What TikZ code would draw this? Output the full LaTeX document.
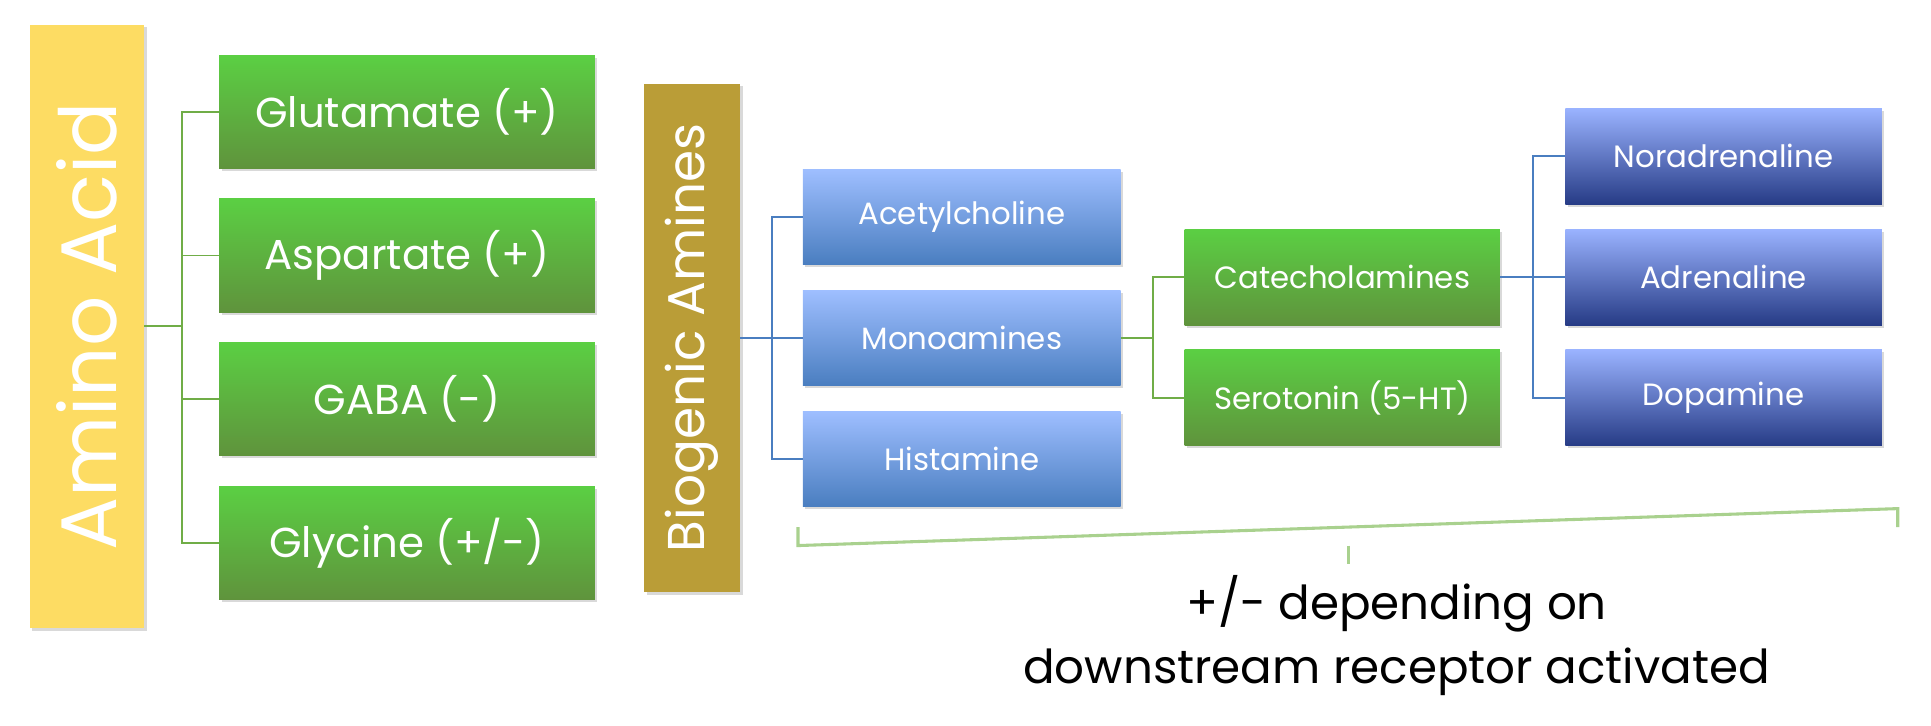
\documentclass[tikz,border=0pt]{standalone}
\usepackage{fontspec}
\setmainfont{Poppins}
\usetikzlibrary{shadows}
\definecolor{gline}{HTML}{70AD47}
\definecolor{bline}{HTML}{4A7EC0}
\definecolor{brk}{HTML}{A9D18E}
\tikzset{
 base/.style={draw=none,text=white,inner sep=0pt,drop shadow={opacity=0.3,shadow xshift=2pt,shadow yshift=-2pt}},
 gbox/.style={base,top color=green!35!gline!90!white,bottom color=gline!85!black,minimum width=305pt,minimum height=92pt,font=\fontsize{34}{34}\selectfont},
 gbox2/.style={base,top color=green!35!gline!90!white,bottom color=gline!85!black,minimum width=256pt,minimum height=78pt,font=\fontsize{25}{25}\selectfont},
 lbox/.style={base,top color=blue!20!cyan!40!gray!80!white!70!blue!70,bottom color=bline,minimum width=258pt,minimum height=77pt,font=\fontsize{25}{25}\selectfont},
 dbox/.style={base,top color=blue!60!cyan!40!white!60!blue!90,bottom color=blue!55!cyan!25!black!70!blue!80,minimum width=257pt,minimum height=78pt,font=\fontsize{25}{25}\selectfont},
 gl/.style={gline,line width=1.5pt},
 bl/.style={bline,line width=1.5pt},
}
\begin{document}
\begin{tikzpicture}[x=1pt,y=-1pt]
\useasboundingbox (0,0) rectangle (1568,589);
\node[base,fill=yellow!60!orange!60!white,minimum width=93pt,minimum height=490pt] (aa) at (70.5,265) {};
\node[text=white,rotate=90,font=\fontsize{64}{64}\selectfont] at (aa) {Amino Acid};
\node[gbox] (glu) at (330.5,91) {Glutamate (+)};
\node[gbox] (asp) at (330.5,207.5) {Aspartate (+)};
\node[gbox] (gaba) at (330.5,324) {GABA (-)};
\node[gbox] (gly) at (330.5,441) {Glycine (+/-)};
\coordinate (j1) at (148,265);
\draw[gl] (aa.east) -- (j1);
\foreach \n in {glu,asp,gaba,gly} \draw[gl] (j1) |- (\n.west);

\node[base,fill=yellow!60!orange!70!black,minimum width=78pt,minimum height=413pt] (ba) at (562,274.5) {};
\node[text=white,rotate=90,font=\fontsize{42}{42}\selectfont] at (ba) {Biogenic Amines};
\node[lbox,top color=blue!30!cyan!30!white!75!blue!80,bottom color=bline] (ace) at (781,176) {Acetylcholine};
\node[lbox,top color=blue!30!cyan!30!white!75!blue!80,bottom color=bline] (mono) at (781,274.5) {Monoamines};
\node[lbox,top color=blue!30!cyan!30!white!75!blue!80,bottom color=bline] (his) at (781,372.5) {Histamine};
\coordinate (j2) at (627,274.5);
\draw[bl] (ba.east) -- (j2);
\foreach \n in {ace,mono,his} \draw[bl] (j2) |- (\n.west);

\node[gbox2] (cat) at (1090,225) {Catecholamines};
\node[gbox2] (ser) at (1090,323) {Serotonin (5-HT)};
\coordinate (j3) at (936,274.5);
\draw[gl] (mono.east) -- (j3);
\foreach \n in {cat,ser} \draw[gl] (j3) |- (\n.west);

\node[dbox,top color=blue!55!cyan!30!white!80!blue!90,bottom color=blue!60!cyan!30!black!80!blue!85] (nor) at (1399.5,127) {Noradrenaline};
\node[dbox,top color=blue!55!cyan!30!white!80!blue!90,bottom color=blue!60!cyan!30!black!80!blue!85] (adr) at (1399.5,225) {Adrenaline};
\node[dbox,top color=blue!55!cyan!30!white!80!blue!90,bottom color=blue!60!cyan!30!black!80!blue!85] (dop) at (1399.5,323) {Dopamine};
\coordinate (j4) at (1245,225);
\draw[bl] (cat.east) -- (j4);
\foreach \n in {nor,adr,dop} \draw[bl] (j4) |- (\n.west);

\coordinate (b1) at (648,428);
\coordinate (b2) at (1541,428);
\coordinate (bm) at (1095,458);
\draw[brk,line width=2.5pt] (b1) -- ++(0,15) -- ([yshift=15pt]b2) -- (b2);
\draw[brk,line width=2.5pt] (1095,443) -- (bm);
\node[font=\fontsize{38}{52}\selectfont,align=center,anchor=north] (txt) at (1134,464) {+/- depending on\\downstream receptor activated};
\end{tikzpicture}
\end{document}
